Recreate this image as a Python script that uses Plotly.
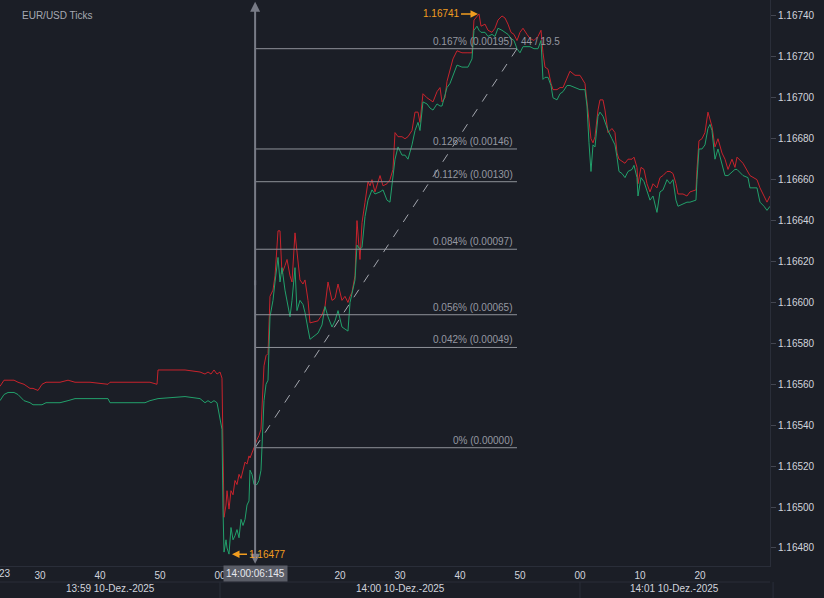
import pandas as pd
import plotly.graph_objects as go

# tick times, seconds relative to 14:00:00 on 10 Dec 2025
tick_sec = [
    -36.67, -36.0, -35.33, -34.33, -33.67, -32.67, -31.67, -31.17, -30.33, -29.67,
    -29.0, -26.67, -25.33, -24.17, -21.67, -18.67, -18.33, -15.0, -12.5, -11.67,
    -10.5, -10.33, -5.83, -3.33, -2.5, -2.0, -1.5, -1.0, -0.5, 0.0,
    0.33, 0.5, 0.67, 1.0, 1.17, 1.5, 1.83, 2.17, 2.5, 2.83,
    3.17, 3.5, 3.83, 4.17, 4.5, 4.83, 5.0, 5.33, 5.67, 6.17,
    6.5, 6.83, 7.0, 7.33, 7.67, 8.0, 8.33, 8.83, 9.17, 9.67,
    10.0, 10.33, 10.83, 11.17, 11.67, 12.0, 12.5, 12.83, 13.33, 13.83,
    14.17, 14.67, 15.0, 16.33, 17.0, 17.5, 18.0, 18.67, 19.17, 19.67,
    20.33, 20.83, 21.33, 21.67, 22.0, 22.5, 22.83, 23.33, 23.67, 24.17,
    24.67, 25.0, 25.33, 25.83, 26.67, 27.17, 27.83, 28.33, 28.83, 29.17,
    29.67, 30.33, 30.83, 31.33, 32.0, 32.5, 33.0, 33.33, 33.83, 34.5,
    35.0, 35.5, 36.17, 36.67, 37.0, 37.5, 37.83, 38.33, 38.83, 39.5,
    40.33, 41.33, 42.0, 42.33, 42.83, 43.17, 43.5, 44.17, 44.67, 45.33,
    45.83, 46.33, 47.0, 47.5, 48.0, 48.5, 49.0, 49.5, 50.0, 50.5,
    51.17, 51.67, 52.33, 53.0, 53.5, 53.83, 54.17, 54.67, 55.17, 55.5,
    56.17, 56.67, 57.17, 57.83, 58.33, 59.17, 60.0, 60.83, 61.17, 61.5,
    61.83, 62.17, 62.5, 63.0, 63.33, 63.83, 64.17, 64.67, 65.33, 65.83,
    66.17, 66.5, 67.0, 67.5, 68.0, 68.67, 69.0, 69.5, 69.67, 70.17,
    70.67, 71.17, 71.67, 72.17, 72.83, 73.33, 73.83, 74.5, 75.0, 75.5,
    76.0, 76.33, 77.17, 77.83, 78.33, 79.33, 79.5, 79.83, 80.33, 80.83,
    81.33, 81.67, 82.0, 82.5, 83.0, 83.67, 84.17, 84.67, 85.33, 85.83,
    86.17, 87.17, 88.0, 88.33, 89.5, 90.0, 90.67, 91.17, 91.67,
]

ask = [
    1.16559, 1.16562, 1.16562, 1.16562, 1.16561, 1.16560, 1.16558, 1.16558, 1.16557, 1.16560,
    1.16561, 1.16561, 1.16562, 1.16561, 1.16561, 1.16560, 1.16561, 1.16561, 1.16561, 1.16561,
    1.16560, 1.16567, 1.16567, 1.16566, 1.16565, 1.16566, 1.16565, 1.16567, 1.16565, 1.16566,
    1.16563, 1.16518, 1.16495, 1.16501, 1.16508, 1.16499, 1.16508, 1.16506, 1.16513, 1.16511,
    1.16516, 1.16514, 1.16518, 1.16522, 1.16521, 1.16525, 1.16524, 1.16527, 1.16529, 1.16533,
    1.16535, 1.16538, 1.16552, 1.16569, 1.16574, 1.16575, 1.16603, 1.16606, 1.16613, 1.16635,
    1.16635, 1.16614, 1.16618, 1.16621, 1.16613, 1.16610, 1.16634, 1.16626, 1.16611, 1.16609,
    1.16611, 1.16601, 1.16590, 1.16591, 1.16594, 1.16598, 1.16610, 1.16601, 1.16602, 1.16609,
    1.16601, 1.16603, 1.16600, 1.16603, 1.16605, 1.16613, 1.16640, 1.16621, 1.16639, 1.16649,
    1.16659, 1.16657, 1.16660, 1.16654, 1.16662, 1.16657, 1.16658, 1.16660, 1.16665, 1.16683,
    1.16681, 1.16681, 1.16680, 1.16681, 1.16684, 1.16693, 1.16693, 1.16688, 1.16702, 1.16700,
    1.16699, 1.16698, 1.16703, 1.16705, 1.16698, 1.16700, 1.16708, 1.16714, 1.16719, 1.16723,
    1.16722, 1.16722, 1.16722, 1.16738, 1.16740, 1.16741, 1.16735, 1.16736, 1.16733, 1.16732,
    1.16734, 1.16738, 1.16740, 1.16739, 1.16736, 1.16732, 1.16731, 1.16728, 1.16732, 1.16734,
    1.16731, 1.16729, 1.16728, 1.16730, 1.16733, 1.16722, 1.16715, 1.16714, 1.16707, 1.16704,
    1.16704, 1.16705, 1.16705, 1.16710, 1.16713, 1.16711, 1.16711, 1.16707, 1.16698, 1.16686,
    1.16680, 1.16678, 1.16681, 1.16694, 1.16699, 1.16699, 1.16694, 1.16683, 1.16685, 1.16683,
    1.16673, 1.16670, 1.16669, 1.16668, 1.16670, 1.16670, 1.16671, 1.16666, 1.16658, 1.16666,
    1.16665, 1.16658, 1.16654, 1.16658, 1.16656, 1.16661, 1.16662, 1.16664, 1.16664, 1.16663,
    1.16658, 1.16653, 1.16653, 1.16652, 1.16654, 1.16655, 1.16665, 1.16679, 1.16680, 1.16683,
    1.16693, 1.16690, 1.16686, 1.16676, 1.16680, 1.16673, 1.16670, 1.16665, 1.16670, 1.16666,
    1.16671, 1.16668, 1.16664, 1.16662, 1.16660, 1.16656, 1.16652, 1.16649, 1.16652,
]

bid = [
    1.16552, 1.16555, 1.16556, 1.16556, 1.16555, 1.16552, 1.16551, 1.16550, 1.16550, 1.16550,
    1.16551, 1.16551, 1.16552, 1.16553, 1.16553, 1.16553, 1.16551, 1.16551, 1.16551, 1.16552,
    1.16553, 1.16553, 1.16554, 1.16553, 1.16551, 1.16552, 1.16551, 1.16552, 1.16551, 1.16544,
    1.16538, 1.16499, 1.16478, 1.16484, 1.16480, 1.16477, 1.16490, 1.16484, 1.16486, 1.16489,
    1.16485, 1.16494, 1.16491, 1.16494, 1.16501, 1.16503, 1.16518, 1.16516, 1.16511, 1.16511,
    1.16513, 1.16518, 1.16528, 1.16552, 1.16560, 1.16562, 1.16593, 1.16601, 1.16610, 1.16622,
    1.16610, 1.16617, 1.16606, 1.16601, 1.16593, 1.16601, 1.16617, 1.16596, 1.16601, 1.16599,
    1.16595, 1.16587, 1.16582, 1.16585, 1.16589, 1.16598, 1.16593, 1.16588, 1.16591, 1.16596,
    1.16588, 1.16587, 1.16586, 1.16600, 1.16604, 1.16611, 1.16628, 1.16626, 1.16627, 1.16642,
    1.16650, 1.16653, 1.16655, 1.16653, 1.16654, 1.16655, 1.16650, 1.16649, 1.16660, 1.16670,
    1.16676, 1.16672, 1.16672, 1.16670, 1.16677, 1.16684, 1.16688, 1.16684, 1.16698, 1.16697,
    1.16695, 1.16694, 1.16697, 1.16696, 1.16696, 1.16702, 1.16705, 1.16707, 1.16711, 1.16716,
    1.16715, 1.16715, 1.16719, 1.16733, 1.16735, 1.16733, 1.16732, 1.16732, 1.16730, 1.16731,
    1.16730, 1.16734, 1.16733, 1.16732, 1.16731, 1.16729, 1.16728, 1.16724, 1.16722, 1.16725,
    1.16725, 1.16725, 1.16724, 1.16724, 1.16728, 1.16709, 1.16710, 1.16710, 1.16706, 1.16700,
    1.16699, 1.16702, 1.16703, 1.16706, 1.16706, 1.16705, 1.16704, 1.16704, 1.16696, 1.16678,
    1.16664, 1.16677, 1.16676, 1.16691, 1.16693, 1.16691, 1.16688, 1.16684, 1.16680, 1.16677,
    1.16671, 1.16664, 1.16663, 1.16661, 1.16664, 1.16665, 1.16667, 1.16661, 1.16652, 1.16661,
    1.16659, 1.16655, 1.16650, 1.16652, 1.16644, 1.16654, 1.16655, 1.16660, 1.16658, 1.16660,
    1.16650, 1.16647, 1.16648, 1.16649, 1.16649, 1.16650, 1.16660, 1.16675, 1.16675, 1.16677,
    1.16685, 1.16687, 1.16684, 1.16670, 1.16675, 1.16667, 1.16662, 1.16662, 1.16664, 1.16665,
    1.16665, 1.16662, 1.16661, 1.16656, 1.16656, 1.16649, 1.16647, 1.16645, 1.16647,
]

# seconds labels shown on the time axis (14:00:10 sits under the cursor box)
axis_tick_sec = [-30, -20, -10, 0, 20, 30, 40, 50, 60, 70, 80]

# fib tool: anchored at the crosshair tick and the 0.167% level
fib_start_sec = 5.85
fib_end_sec = 49.5
fib_base = 1.16529
fib_offsets = [0.0, 0.00049, 0.00065, 0.00097, 0.00130, 0.00146, 0.00195]
fib_pct = ["0%", "0.042%", "0.056%", "0.084%", "0.112%", "0.126%", "0.167%"]
fib_note = "44 / 19.5"

high_sec, high_px = 43.17, 1.16741
low_sec, low_px = 1.5, 1.16477
cursor_label = "14:00:06:145"
date_labels = ["13:59 10-Dez.-2025", "14:00 10-Dez.-2025", "14:01 10-Dez.-2025"]
x_start_sec, x_end_sec = -36.67, 91.67
y_min, y_max = 1.164712, 1.167478

BG = "#1b1e26"
TXT = "#d1d4dc"
GRAY = "#9598a1"
ORANGE = "#f29d1f"
FONT = "Liberation Sans, Arial, sans-serif"

base = pd.Timestamp("2025-12-10 14:00:00")


def ts(sec):
    return base + pd.to_timedelta(sec, unit="s")


times = [ts(s) for s in tick_sec]

fig = go.Figure()
fig.add_trace(go.Scatter(x=times, y=ask, mode="lines", name="Ask",
                         line=dict(color="#c8232c", width=1)))
fig.add_trace(go.Scatter(x=times, y=bid, mode="lines", name="Bid",
                         line=dict(color="#22a06b", width=1)))

f0, f1 = ts(fib_start_sec), ts(fib_end_sec)
for off, pct in zip(fib_offsets, fib_pct):
    lvl = fib_base + off
    fig.add_shape(type="line", x0=f0, x1=f1, y0=lvl, y1=lvl,
                  line=dict(color="#8f9299", width=1))
    fig.add_annotation(x=f1, y=lvl, text="%s (%.5f)" % (pct, off), showarrow=False,
                       xanchor="right", yanchor="bottom", xshift=-2, yshift=0,
                       font=dict(family=FONT, size=10, color=GRAY))

fig.add_shape(type="line", x0=f0, y0=fib_base, x1=f1, y1=fib_base + fib_offsets[-1],
              line=dict(color="#a3a6ae", width=1, dash="dash"))
fig.add_annotation(x=f1, y=fib_base + fib_offsets[-1], text=fib_note, showarrow=False,
                   xanchor="left", yanchor="bottom", xshift=2,
                   font=dict(family=FONT, size=10, color=GRAY))

# vertical crosshair with arrow heads at both ends
cur = ts(fib_start_sec)
fig.add_annotation(x=cur, y=0.997, xref="x", yref="paper", text="", showarrow=True,
                   ax=0, ay=285, arrowhead=2, arrowsize=1, arrowwidth=2, arrowcolor="#787b86")
fig.add_annotation(x=cur, y=0.004, xref="x", yref="paper", text="", showarrow=True,
                   ax=0, ay=-285, arrowhead=2, arrowsize=1, arrowwidth=2, arrowcolor="#787b86")

# high / low markers
fig.add_annotation(x=ts(high_sec), y=high_px, text="%.5f" % high_px, showarrow=True,
                   ax=-38, ay=0, arrowhead=2, arrowsize=1, arrowwidth=1.5, arrowcolor=ORANGE,
                   standoff=1, font=dict(family=FONT, size=10, color=ORANGE))
fig.add_annotation(x=ts(low_sec), y=low_px, text="%.5f" % low_px, showarrow=True,
                   ax=38, ay=0, arrowhead=2, arrowsize=1, arrowwidth=1.5, arrowcolor=ORANGE,
                   standoff=3, font=dict(family=FONT, size=10, color=ORANGE))

fig.add_annotation(x=0.026, y=0.972, xref="paper", yref="paper", text="EUR/USD Ticks",
                   showarrow=False, xanchor="left", yanchor="middle",
                   font=dict(family=FONT, size=10, color="#a6a9b2"))

# time label under crosshair
fig.add_annotation(x=cur, y=-0.0141, xref="x", yref="paper", text=cursor_label,
                   showarrow=False, yanchor="middle", bgcolor="#5a5d67", borderpad=2,
                   font=dict(family=FONT, size=10, color="#e6e8ee"))
fig.add_annotation(x=0, y=-0.0141, xref="paper", yref="paper", text="23", showarrow=False,
                   xanchor="left", yanchor="middle", xshift=-3,
                   font=dict(family=FONT, size=10, color=TXT))

# date row under the seconds axis
minute_edges = [x_start_sec, 0, 60, x_end_sec]
for i, lab in enumerate(date_labels):
    mid = (minute_edges[i] + minute_edges[i + 1]) / 2
    fig.add_annotation(x=ts(mid), y=-0.0406, xref="x", yref="paper", text=lab,
                       showarrow=False, yanchor="middle",
                       font=dict(family=FONT, size=10, color=TXT))
for m in [0, 60]:
    fig.add_shape(type="line", x0=ts(m), x1=ts(m), y0=-0.0283, y1=-0.06, xref="x", yref="paper",
                  line=dict(color="#2a2e39", width=1))
fig.add_shape(type="line", x0=0, x1=1, y0=-0.0283, y1=-0.0283, xref="paper", yref="paper",
              line=dict(color="#2a2e39", width=1))
fig.add_shape(type="line", x0=1.004, x1=1.004, y0=-0.0283, y1=-0.06, xref="paper", yref="paper",
              line=dict(color="#2a2e39", width=1))

fig.update_layout(
    width=824, height=598,
    margin=dict(l=0, r=54, t=0, b=32),
    paper_bgcolor=BG, plot_bgcolor=BG,
    showlegend=False,
    font=dict(family=FONT, size=10, color=TXT),
)
fig.update_xaxes(
    type="date", range=[ts(x_start_sec), ts(x_end_sec)],
    tickvals=[ts(s) for s in axis_tick_sec], tickformat="%S",
    showgrid=False, zeroline=False, showline=True, linecolor="#2a2e39",
    ticks="", tickfont=dict(family=FONT, size=10, color=TXT),
)
fig.update_yaxes(
    side="right", range=[y_min, y_max], dtick=0.0002, tick0=1.1648, tickformat=".5f",
    showgrid=False, zeroline=False, showline=True, linecolor="#2a2e39",
    ticks="outside", ticklen=5, tickcolor="#434651",
    tickfont=dict(family=FONT, size=10, color=TXT),
)

# page body has a default 8px margin; drop it so the chart sits at the corner
fig.write_html("out.html", config={"displayModeBar": False},
               post_script="document.body.style.margin='0px';"
                           "document.body.style.background='%s';" % BG)
